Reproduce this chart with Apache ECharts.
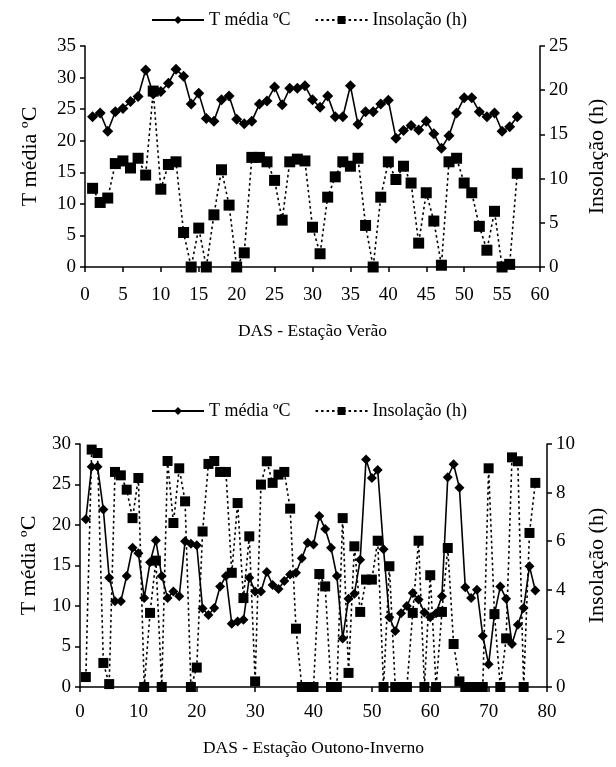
<!DOCTYPE html>
<html>
<head>
<meta charset="utf-8">
<script src="https://cdn.jsdelivr.net/npm/echarts@6/dist/echarts.min.js"></script>
<style>
html,body{margin:0;padding:0;background:#fff;}
#c{width:616px;height:767px;}
</style>
</head>
<body>
<div id="c"></div>
<script>
// ---- Data: Estação Verão ----
var verDays = [1,2,3,4,5,6,7,8,9,10,11,12,13,14,15,16,17,18,19,20,21,22,23,24,25,26,27,28,29,30,31,32,33,34,35,36,37,38,39,40,41,42,43,44,45,46,47,48,49,50,51,52,53,54,55,56,57];
var verTemp = [23.8,24.4,21.5,24.6,25.1,26.2,27.0,31.2,27.4,27.8,29.1,31.3,30.2,25.8,27.5,23.5,23.1,26.5,27.1,23.4,22.7,23.1,25.8,26.3,28.5,25.7,28.3,28.3,28.7,26.5,25.3,27.1,23.8,23.8,28.7,22.6,24.6,24.6,25.8,26.4,20.4,21.6,22.4,21.7,23.1,21.1,18.8,20.8,24.4,26.8,26.8,24.6,23.8,24.4,21.5,22.2,23.8];
var verInsol = [8.9,7.3,7.8,11.7,12.0,11.2,12.3,10.4,19.9,8.8,11.6,11.9,3.9,0,4.4,0,5.9,11.0,7.0,0,1.6,12.4,12.4,11.9,9.8,5.3,11.9,12.2,12.0,4.5,1.5,7.9,10.2,11.9,11.4,12.3,4.7,0,7.9,11.9,9.9,11.4,9.5,2.7,8.4,5.2,0.2,11.9,12.3,9.5,8.4,4.6,1.9,6.3,0,0.3,10.6];
var verTempTicks = [0,5,10,15,20,25,30,35];
var verInsolTicks = [0,5,10,15,20,25];

// ---- Data: Estação Outono-Inverno ----
var oiDays = [1,2,3,4,5,6,7,8,9,10,11,12,13,14,15,16,17,18,19,20,21,22,23,24,25,26,27,28,29,30,31,32,33,34,35,36,37,38,39,40,41,42,43,44,45,46,47,48,49,50,51,52,53,54,55,56,57,58,59,60,61,62,63,64,65,66,67,68,69,70,71,72,73,74,75,76,77,78];
var oiTemp = [20.7,27.2,27.2,21.9,13.5,10.6,10.6,13.7,17.2,16.5,11.0,15.4,18.1,13.7,11.0,11.8,11.2,18.0,17.7,17.5,9.7,8.9,9.75,12.4,13.7,7.8,8.1,8.3,13.5,11.8,11.8,14.2,12.6,12.1,13.1,13.9,14.1,15.9,17.8,17.6,21.1,19.5,17.2,13.7,6.0,10.9,11.5,15.7,28.1,25.8,26.8,17.0,8.6,6.9,9.1,10.0,11.6,10.8,9.2,8.6,9.1,11.2,25.9,27.5,24.6,12.3,11.0,12.0,6.3,2.8,9.0,12.4,10.9,5.3,7.7,9.75,14.9,11.9];
var oiInsol = [0.41,9.77,9.63,0.99,0.12,8.85,8.71,8.12,6.95,8.6,0,3.05,5.2,0,9.3,6.75,9.0,7.64,0,0.8,6.4,9.18,9.3,8.85,8.85,4.7,7.57,3.66,6.2,0.23,8.33,9.29,8.4,8.74,8.85,7.34,2.4,0,0,0,4.65,4.14,0,0,6.95,0.58,5.79,3.09,4.42,4.42,6.02,0,4.97,0,0,0,3.05,6.02,0,4.6,0,3.09,5.72,1.77,0.23,0,0,0,0,9.0,3.0,0,2.0,9.45,9.29,0,6.34,8.4];
var oiTempTicks = [0,5,10,15,20,25,30];
var oiInsolTicks = [0,2,4,6,8,10];

var nameT = 'T média ºC';
var nameI = 'Insolação (h)';
var titleVer = 'DAS - Estação Verão';
var titleOI = 'DAS - Estação Outono-Inverno';

function pairs(xs, ys){ return xs.map(function(x,i){ return [x, ys[i]]; }); }

var FONT = "'Liberation Serif','Times New Roman',serif";
var black = '#000';

function axisCommon(){
  return {
    axisLine:{show:true,lineStyle:{color:black,width:1.5}},
    axisTick:{show:true,length:5,lineStyle:{color:black,width:1.5}},
    splitLine:{show:false},
    axisLabel:{color:black,fontFamily:FONT,fontSize:19,margin:9},
    nameTextStyle:{color:black,fontFamily:FONT,fontSize:22}
  };
}
function mk(extra){ var a = axisCommon(); for (var k in extra) a[k]=extra[k]; return a; }

var legendText = {color:black,fontFamily:FONT,fontSize:18};
var chart = echarts.init(document.getElementById('c'), null, {renderer:'canvas'});
var option = {
  animation:false,
  backgroundColor:'#fff',
  legend:[
    {left:146, top:6, itemWidth:52, itemHeight:10, itemGap:24, textStyle:legendText, data:[nameT,nameI]},
    {left:146, top:397, itemWidth:52, itemHeight:10, itemGap:24, textStyle:legendText, data:[nameT,nameI]}
  ],
  grid:[
    {left:85, right:74, top:46, height:221},
    {left:80, right:67, top:444, height:243}
  ],
  xAxis:[
    mk({type:'value', gridIndex:0, min:0, max:60, interval:5, axisLabel:{color:black,fontFamily:FONT,fontSize:19,margin:19}, name:titleVer, nameLocation:'middle', nameGap:55, nameTextStyle:{color:black,fontFamily:FONT,fontSize:17.5}}),
    mk({type:'value', gridIndex:1, min:0, max:80, interval:10, axisLabel:{color:black,fontFamily:FONT,fontSize:19,margin:16}, name:titleOI, nameLocation:'middle', nameGap:52, nameTextStyle:{color:black,fontFamily:FONT,fontSize:17.5}})
  ],
  yAxis:[
    mk({type:'value', gridIndex:0, min:verTempTicks[0], max:verTempTicks[verTempTicks.length-1], interval:5, name:nameT, nameLocation:'middle', nameRotate:90, nameGap:44}),
    mk({type:'value', gridIndex:0, position:'right', min:verInsolTicks[0], max:verInsolTicks[verInsolTicks.length-1], interval:5, name:nameI, nameLocation:'middle', nameRotate:90, nameGap:46}),
    mk({type:'value', gridIndex:1, min:oiTempTicks[0], max:oiTempTicks[oiTempTicks.length-1], interval:5, name:nameT, nameLocation:'middle', nameRotate:90, nameGap:40}),
    mk({type:'value', gridIndex:1, position:'right', min:oiInsolTicks[0], max:oiInsolTicks[oiInsolTicks.length-1], interval:2, name:nameI, nameLocation:'middle', nameRotate:90, nameGap:39})
  ],
  series:[
    {name:nameT, type:'line', xAxisIndex:0, yAxisIndex:0, data:pairs(verDays,verTemp), symbol:'diamond', symbolSize:11, itemStyle:{color:black}, lineStyle:{color:black,width:1.6}},
    {name:nameI, type:'line', xAxisIndex:0, yAxisIndex:1, data:pairs(verDays,verInsol), symbol:'rect', symbolSize:11, itemStyle:{color:black}, lineStyle:{color:black,width:1.6,type:[2.5,3]}},
    {name:nameT, type:'line', xAxisIndex:1, yAxisIndex:2, data:pairs(oiDays,oiTemp), symbol:'diamond', symbolSize:10, itemStyle:{color:black}, lineStyle:{color:black,width:1.6}},
    {name:nameI, type:'line', xAxisIndex:1, yAxisIndex:3, data:pairs(oiDays,oiInsol), symbol:'rect', symbolSize:10, itemStyle:{color:black}, lineStyle:{color:black,width:1.6,type:[2.5,3]}}
  ]
};
chart.setOption(option);
</script>
</body>
</html>
